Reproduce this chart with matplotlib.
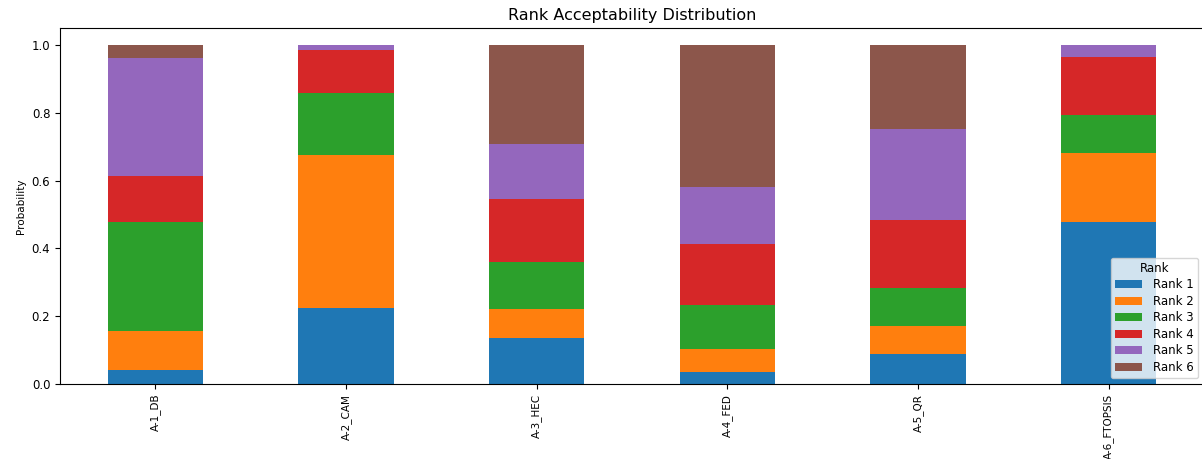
import pandas as pd
import matplotlib
matplotlib.use("Agg")
import matplotlib.pyplot as plt

# rank acceptability per alternative
alternatives = ['A-1_DB', 'A-2_CAM', 'A-3_HEC', 'A-4_FED', 'A-5_QR', 'A-6_FTOPSIS']
rank1 = [0.041, 0.224, 0.136, 0.035, 0.089, 0.479]
rank2 = [0.115, 0.451, 0.084, 0.068, 0.081, 0.202]
rank3 = [0.322, 0.183, 0.141, 0.130, 0.114, 0.112]
rank4 = [0.136, 0.127, 0.185, 0.181, 0.199, 0.172]
rank5 = [0.348, 0.015, 0.162, 0.166, 0.268, 0.035]
rank6 = [0.038, 0.000, 0.292, 0.420, 0.249, 0.000]

df = pd.DataFrame({'Rank 1': rank1, 'Rank 2': rank2, 'Rank 3': rank3,
                   'Rank 4': rank4, 'Rank 5': rank5, 'Rank 6': rank6},
                  index=alternatives)

fig = plt.figure(figsize=(12.02, 4.59), dpi=100)
ax = fig.add_axes([0.0499, 0.1634, 0.9518, 0.7756])
df.plot(kind='bar', stacked=True, ax=ax)

ax.set_title('Rank Acceptability Distribution', fontsize=11.5)
ax.set_ylabel('Probability', fontsize=7.5)
ax.tick_params(axis='x', labelsize=7.5)
ax.tick_params(axis='y', labelsize=8.5)
ax.legend(title='Rank', loc='lower right', fontsize=8.5, title_fontsize=8.5,
          labelspacing=0.3, handlelength=2.3, handletextpad=0.95,
          borderpad=0.35)

fig.savefig('out.png', dpi=100)
